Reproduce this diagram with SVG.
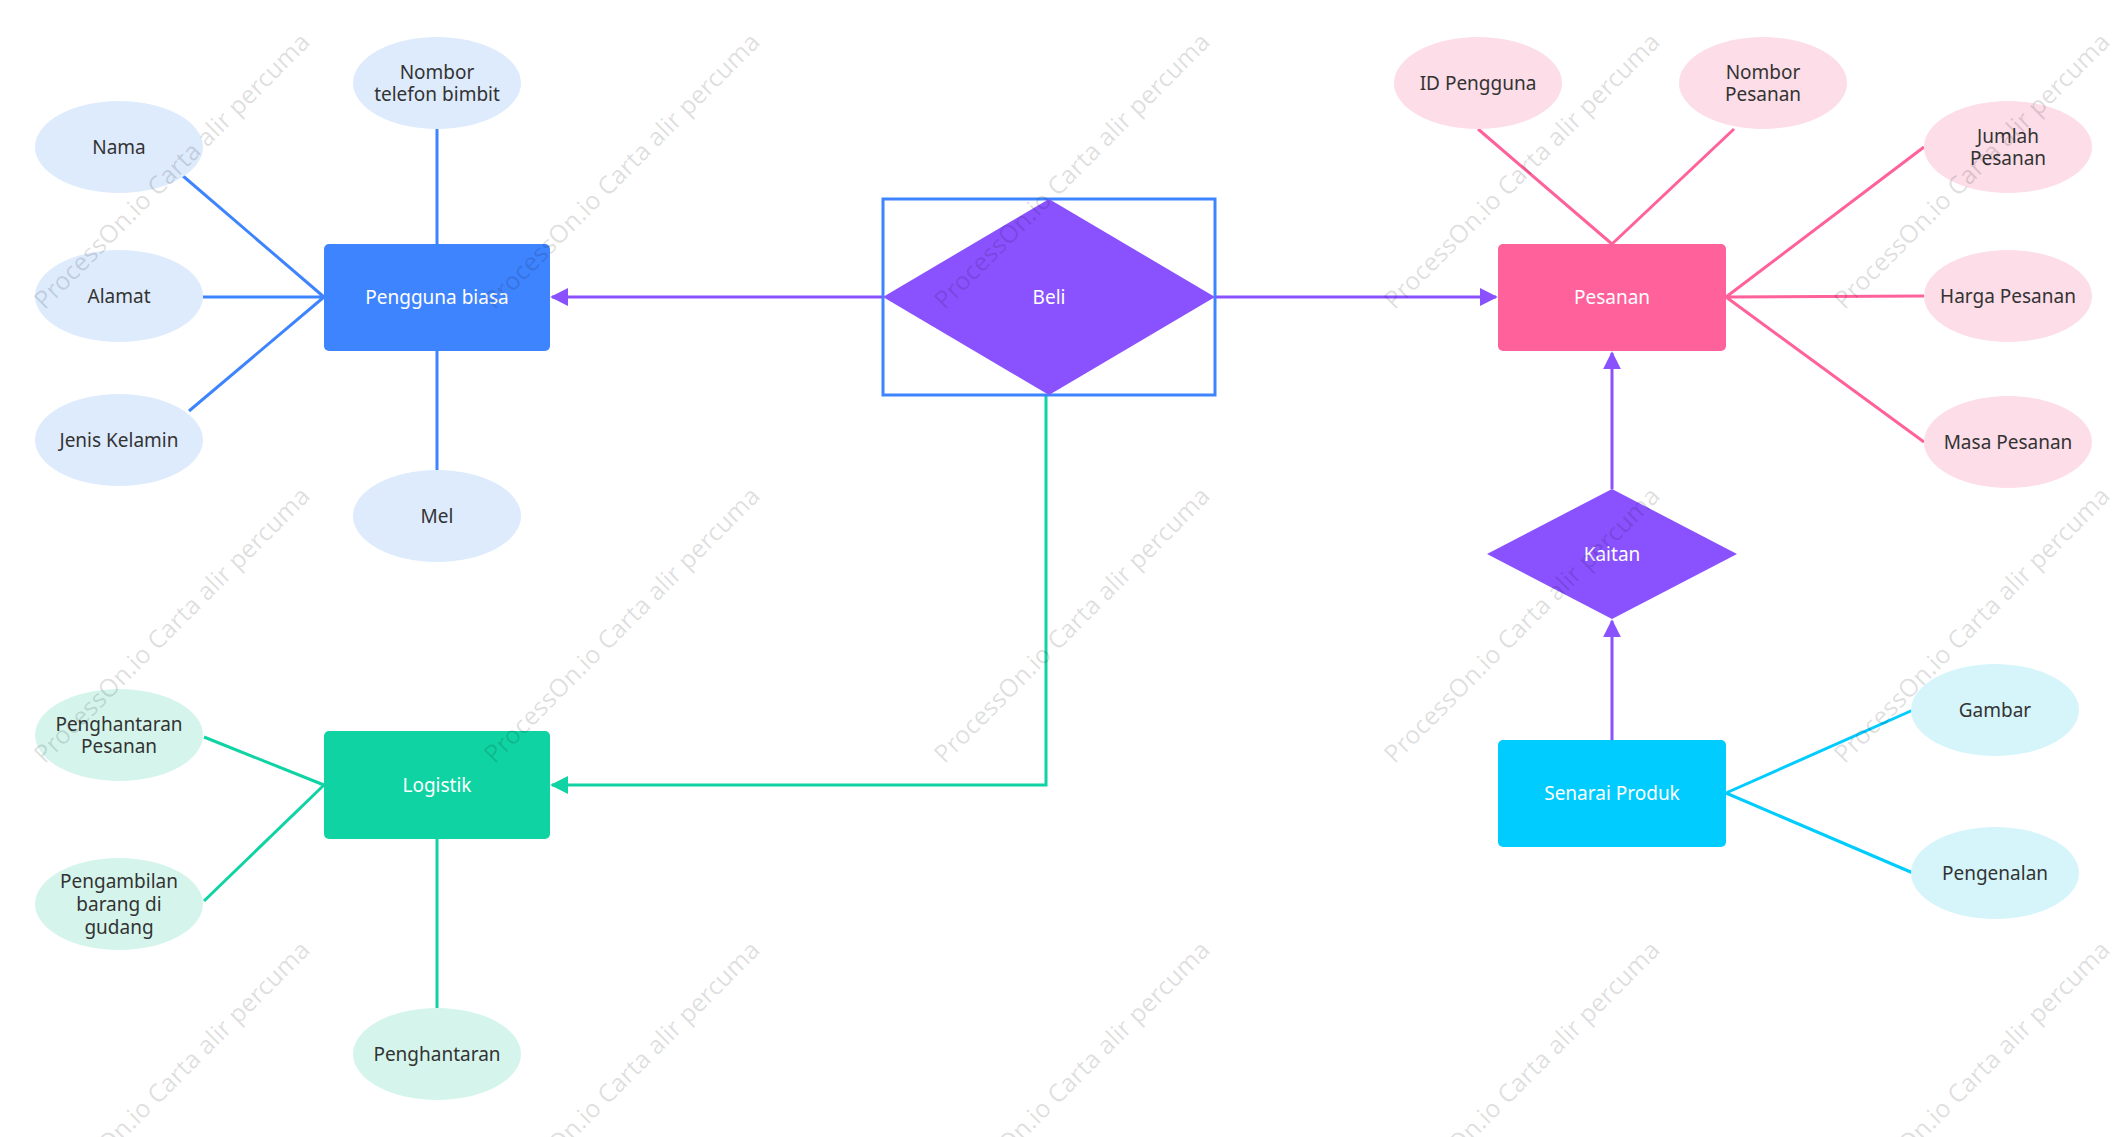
<svg xmlns="http://www.w3.org/2000/svg" width="2128" height="1137" viewBox="0 0 2128 1137">
<style>
text{font-family:"Noto Sans","Liberation Sans",sans-serif;font-size:19px;text-anchor:middle;dominant-baseline:central}
.d{fill:#333}.w{fill:#fff}
.wm{fill:#000;fill-opacity:0.13;font-size:25px}
.b{stroke:#3F84FF;stroke-width:3;fill:none}
.p{stroke:#FF619B;stroke-width:3;fill:none}
.g{stroke:#10D3A3;stroke-width:3;fill:none}
.c{stroke:#00CCFF;stroke-width:3;fill:none}
.v{stroke:#8A52FF;stroke-width:3;fill:none}
</style>
<defs>
<marker id="ap" viewBox="0 0 10 10" refX="9" refY="5" markerWidth="6" markerHeight="6" orient="auto" markerUnits="strokeWidth"><path d="M0,0L10,5L0,10z" fill="#8A52FF"/></marker>
<marker id="ag" viewBox="0 0 10 10" refX="9" refY="5" markerWidth="6" markerHeight="6" orient="auto" markerUnits="strokeWidth"><path d="M0,0L10,5L0,10z" fill="#10D3A3"/></marker>
</defs>
<rect width="2128" height="1137" fill="#fff"/>
<g id="connectors">
<path class="b" d="M324,297L183,176M324,297L203,297M324,297L189,411M437,244V129M437,351V470"/>
<path class="p" d="M1612,244L1478,129M1612,244L1734,129M1726,297L1924,147M1726,297L1924,296M1726,297L1924,442"/>
<path class="g" d="M324,785L204,737M324,785L204,901M437,839V1008"/>
<path class="c" d="M1726,793L1913,710M1726,793L1913,873"/>
<path class="v" d="M883,297H552" marker-end="url(#ap)"/>
<path class="v" d="M1215,297H1496" marker-end="url(#ap)"/>
<path class="v" d="M1612,489V353" marker-end="url(#ap)"/>
<path class="v" d="M1612,740V621" marker-end="url(#ap)"/>
<path class="g" d="M1046,395V785H552" marker-end="url(#ag)"/>
</g>
<g id="pengguna"><rect x="324" y="244" width="226" height="107" rx="5" fill="#3F84FF"/><text class="w" x="437" y="297">Pengguna biasa</text></g>
<g id="nama"><ellipse cx="119" cy="147" rx="84" ry="46" fill="#DDEBFD"/><text class="d" x="119" y="147">Nama</text></g>
<g id="alamat"><ellipse cx="119" cy="296" rx="84" ry="46" fill="#DDEBFD"/><text class="d" x="119" y="296">Alamat</text></g>
<g id="jenis"><ellipse cx="119" cy="440" rx="84" ry="46" fill="#DDEBFD"/><text class="d" x="119" y="440">Jenis Kelamin</text></g>
<g id="telefon"><ellipse cx="437" cy="83" rx="84" ry="46" fill="#DDEBFD"/><text class="d" x="437" y="72">Nombor</text><text class="d" x="437" y="94">telefon bimbit</text></g>
<g id="mel"><ellipse cx="437" cy="516" rx="84" ry="46" fill="#DDEBFD"/><text class="d" x="437" y="516">Mel</text></g>
<g id="beli"><rect x="883" y="199" width="332" height="196" fill="none" stroke="#3F84FF" stroke-width="3"/><path d="M883,297L1049,199L1215,297L1049,395Z" fill="#8A52FF"/><text class="w" x="1049" y="297">Beli</text></g>
<g id="pesanan"><rect x="1498" y="244" width="228" height="107" rx="5" fill="#FF619B"/><text class="w" x="1612" y="297">Pesanan</text></g>
<g id="idp"><ellipse cx="1478" cy="83" rx="84" ry="46" fill="#FCDDE8"/><text class="d" x="1478" y="83">ID Pengguna</text></g>
<g id="nomp"><ellipse cx="1763" cy="83" rx="84" ry="46" fill="#FCDDE8"/><text class="d" x="1763" y="72">Nombor</text><text class="d" x="1763" y="94">Pesanan</text></g>
<g id="jumlah"><ellipse cx="2008" cy="147" rx="84" ry="46" fill="#FCDDE8"/><text class="d" x="2008" y="136">Jumlah</text><text class="d" x="2008" y="158">Pesanan</text></g>
<g id="harga"><ellipse cx="2008" cy="296" rx="84" ry="46" fill="#FCDDE8"/><text class="d" x="2008" y="296">Harga Pesanan</text></g>
<g id="masa"><ellipse cx="2008" cy="442" rx="84" ry="46" fill="#FCDDE8"/><text class="d" x="2008" y="442">Masa Pesanan</text></g>
<g id="kaitan"><path d="M1487,554L1612,489L1737,554L1612,619Z" fill="#8A52FF"/><text class="w" x="1612" y="554">Kaitan</text></g>
<g id="senarai"><rect x="1498" y="740" width="228" height="107" rx="5" fill="#00CCFF"/><text class="w" x="1612" y="793">Senarai Produk</text></g>
<g id="gambar"><ellipse cx="1995" cy="710" rx="84" ry="46" fill="#D6F5FB"/><text class="d" x="1995" y="710">Gambar</text></g>
<g id="pengenalan"><ellipse cx="1995" cy="873" rx="84" ry="46" fill="#D6F5FB"/><text class="d" x="1995" y="873">Pengenalan</text></g>
<g id="logistik"><rect x="324" y="731" width="226" height="108" rx="5" fill="#10D3A3"/><text class="w" x="437" y="785">Logistik</text></g>
<g id="hp"><ellipse cx="119" cy="735" rx="84" ry="46" fill="#D5F5EC"/><text class="d" x="119" y="724">Penghantaran</text><text class="d" x="119" y="746">Pesanan</text></g>
<g id="pb"><ellipse cx="119" cy="904" rx="84" ry="46" fill="#D5F5EC"/><text class="d" x="119" y="881">Pengambilan</text><text class="d" x="119" y="904">barang di</text><text class="d" x="119" y="927">gudang</text></g>
<g id="ph"><ellipse cx="437" cy="1054" rx="84" ry="46" fill="#D5F5EC"/><text class="d" x="437" y="1054">Penghantaran</text></g>
<g id="watermark">
<text class="wm" transform="translate(171,170) rotate(-45)">ProcessOn.io Carta alir percuma</text>
<text class="wm" transform="translate(621,170) rotate(-45)">ProcessOn.io Carta alir percuma</text>
<text class="wm" transform="translate(1071,170) rotate(-45)">ProcessOn.io Carta alir percuma</text>
<text class="wm" transform="translate(1521,170) rotate(-45)">ProcessOn.io Carta alir percuma</text>
<text class="wm" transform="translate(1971,170) rotate(-45)">ProcessOn.io Carta alir percuma</text>
<text class="wm" transform="translate(171,624) rotate(-45)">ProcessOn.io Carta alir percuma</text>
<text class="wm" transform="translate(621,624) rotate(-45)">ProcessOn.io Carta alir percuma</text>
<text class="wm" transform="translate(1071,624) rotate(-45)">ProcessOn.io Carta alir percuma</text>
<text class="wm" transform="translate(1521,624) rotate(-45)">ProcessOn.io Carta alir percuma</text>
<text class="wm" transform="translate(1971,624) rotate(-45)">ProcessOn.io Carta alir percuma</text>
<text class="wm" transform="translate(171,1078) rotate(-45)">ProcessOn.io Carta alir percuma</text>
<text class="wm" transform="translate(621,1078) rotate(-45)">ProcessOn.io Carta alir percuma</text>
<text class="wm" transform="translate(1071,1078) rotate(-45)">ProcessOn.io Carta alir percuma</text>
<text class="wm" transform="translate(1521,1078) rotate(-45)">ProcessOn.io Carta alir percuma</text>
<text class="wm" transform="translate(1971,1078) rotate(-45)">ProcessOn.io Carta alir percuma</text>
</g>
</svg>
